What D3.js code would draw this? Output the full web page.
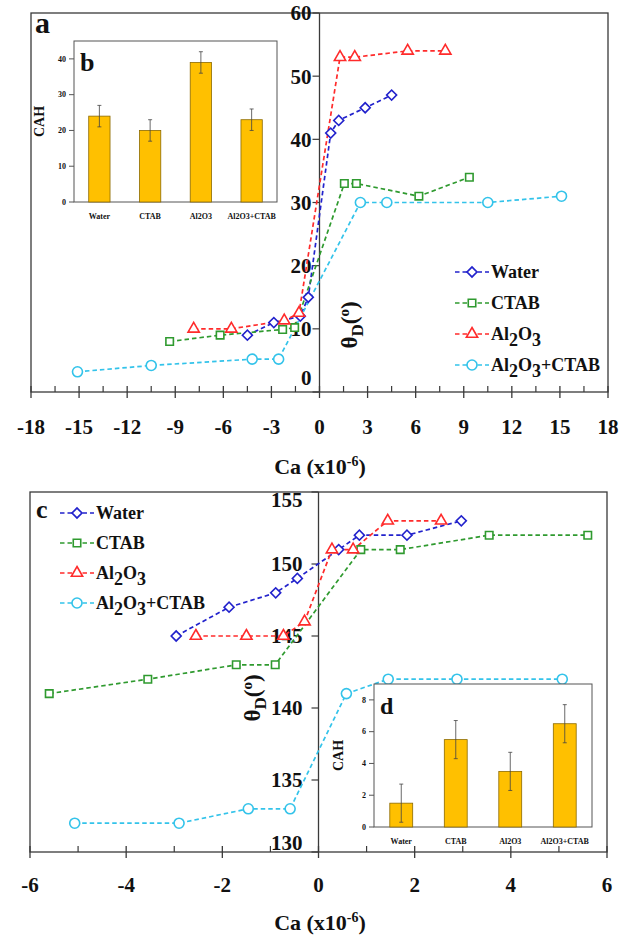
<!DOCTYPE html>
<html><head><meta charset="utf-8">
<script src="https://cdn.jsdelivr.net/npm/d3@7"></script>
<style>
body{margin:0;background:#fff}
svg{display:block}
text{font-family:"Liberation Serif","Times New Roman",serif;font-weight:bold;fill:#111}
</style>
</head><body>
<svg id="chart" width="633" height="937"></svg>
<script>
// ---------------- DATA ----------------
const seriesNames = ["Water", "CTAB", "Al_2O_3", "Al_2O_3+CTAB"];
const seriesColors = ["#2222cc", "#2f9a2f", "#ff2b2b", "#33c3ea"];
const seriesShapes = ["diamond", "square", "triangle", "circle"];

// Panel a: theta_D vs Ca (x10^-6)
const aWaterX = [-4.5, -2.85, -1.2, -0.7, 0.7, 1.2, 2.85, 4.5];
const aWaterY = [9, 11, 12, 15, 41, 43, 45, 47];
const aCtabX  = [-9.35, -6.2, -2.3, -1.55, 1.55, 2.3, 6.2, 9.35];
const aCtabY  = [8, 9, 9.9, 10.2, 33, 33, 31, 34];
const aAlX    = [-7.85, -5.5, -2.2, -1.28, 1.28, 2.2, 5.5, 7.85];
const aAlY    = [10, 10, 11.3, 12.5, 53, 53, 54, 54];
const aAlCtX  = [-15.1, -10.5, -4.2, -2.55, 2.55, 4.2, 10.5, 15.1];
const aAlCtY  = [3.2, 4.2, 5.2, 5.2, 30, 30, 30, 31];
const aXTicks = [-18, -15, -12, -9, -6, -3, 0, 3, 6, 9, 12, 15, 18];
const aYTicks = [0, 10, 20, 30, 40, 50, 60];

// Panel c: theta_D vs Ca (x10^-6)
const cWaterX = [-2.96, -1.86, -0.89, -0.44, 0.42, 0.85, 1.84, 2.97];
const cWaterY = [145, 147, 148, 149, 151, 152, 152, 153];
const cCtabX  = [-5.6, -3.55, -1.71, -0.9, 0.88, 1.7, 3.55, 5.6];
const cCtabY  = [141, 142, 143, 143, 151, 151, 152, 152];
const cAlX    = [-2.55, -1.5, -0.73, -0.29, 0.28, 0.72, 1.44, 2.55];
const cAlY    = [145, 145, 145, 146, 151, 151, 153, 153];
const cAlCtX  = [-5.07, -2.9, -1.46, -0.59, 0.58, 1.45, 2.88, 5.07];
const cAlCtY  = [132, 132, 133, 133, 141, 142, 142, 142];
const cXTicks = [-6, -4, -2, 0, 2, 4, 6];
const cYTicks = [130, 135, 140, 145, 150, 155];

// Insets: CAH bars
const barCategories = ["Water", "CTAB", "Al2O3", "Al2O3+CTAB"];
const bCah    = [24, 20, 39, 23];
const bCahErr = [3, 3, 3, 3];
const bYTicks = [0, 10, 20, 30, 40];
const dCah    = [1.5, 5.5, 3.5, 6.5];
const dCahErr = [1.2, 1.2, 1.2, 1.2];
const dYTicks = [0, 2, 4, 6, 8];

// ---------------- DRAWING ----------------
const svg = d3.select("#chart");
const AX = "#3a3a3a";

function richText(sel, label, size) {
  // "_" marks a one-character subscript
  let i = 0, lowered = false;
  while (i < label.length) {
    if (label[i] === "_") {
      sel.append("tspan").attr("dy", 6).text(label[i + 1]);
      lowered = true; i += 2;
    } else {
      let j = i;
      while (j < label.length && label[j] !== "_") j++;
      const t = sel.append("tspan").text(label.slice(i, j));
      if (lowered) { t.attr("dy", -6); lowered = false; }
      i = j;
    }
  }
}

function marker(g, shape, color, cx, cy) {
  if (shape === "circle") {
    g.append("circle").attr("cx", cx).attr("cy", cy).attr("r", 5)
      .attr("fill", "#fff").attr("stroke", color).attr("stroke-width", 1.6);
    return;
  }
  let sym, rot = 0, size;
  if (shape === "square") { sym = d3.symbolSquare; size = 56; }
  else if (shape === "diamond") { sym = d3.symbolSquare; size = 50; rot = 45; }
  else { sym = d3.symbolTriangle; size = 55; }
  g.append("path").attr("d", d3.symbol().type(sym).size(size)())
    .attr("transform", `translate(${cx},${cy}) rotate(${rot})`)
    .attr("fill", "#fff").attr("stroke", color).attr("stroke-width", 1.6);
}

function ylabel(x, y) {
  const t = svg.append("text").attr("transform", `translate(${x},${y}) rotate(-90)`)
    .attr("text-anchor", "middle").attr("font-size", 23);
  t.append("tspan").text("θ");
  t.append("tspan").attr("dy", 6).attr("font-size", 17).text("D");
  t.append("tspan").attr("dy", -6).text("(");
  t.append("tspan").attr("dy", -8).attr("font-size", 15).text("o");
  t.append("tspan").attr("dy", 8).text(")");
}

function xlabel(x, y) {
  const t = svg.append("text").attr("x", x).attr("y", y)
    .attr("text-anchor", "middle").attr("font-size", 22);
  t.append("tspan").text("Ca (x10");
  t.append("tspan").attr("dy", -8).attr("font-size", 14).text("-6");
  t.append("tspan").attr("dy", 8).text(")");
}

function panel(o) {
  const x = d3.scaleLinear().domain(o.xDomain).range([o.left, o.right]);
  const y = d3.scaleLinear().domain(o.yDomain).range([o.bottom, o.top]);
  const g = svg.append("g");
  // frame
  g.append("rect").attr("x", o.left).attr("y", o.top)
    .attr("width", o.right - o.left).attr("height", o.bottom - o.top)
    .attr("fill", "none").attr("stroke", AX).attr("stroke-width", 1.3);
  // x ticks (major crossing, minor inward)
  const step = o.xTicks[1] - o.xTicks[0];
  o.xTicks.forEach((t, k) => {
    g.append("line").attr("x1", x(t)).attr("x2", x(t))
      .attr("y1", o.bottom - 6).attr("y2", o.bottom + 6)
      .attr("stroke", AX).attr("stroke-width", 1.3);
    if (k < o.xTicks.length - 1) {
      const m = t + step / 2;
      g.append("line").attr("x1", x(m)).attr("x2", x(m))
        .attr("y1", o.bottom - 6).attr("y2", o.bottom)
        .attr("stroke", AX).attr("stroke-width", 1.2);
    }
    g.append("text").attr("x", x(t)).attr("y", o.xLabelY)
      .attr("text-anchor", "middle").attr("font-size", 21).text(String(t));
  });
  // y axis at x = 0
  const x0 = x(0);
  g.append("line").attr("x1", x0).attr("x2", x0).attr("y1", o.top).attr("y2", o.bottom)
    .attr("stroke", AX).attr("stroke-width", 1.3);
  o.yTicks.forEach(t => {
    g.append("line").attr("x1", x0 - 7).attr("x2", x0).attr("y1", y(t)).attr("y2", y(t))
      .attr("stroke", AX).attr("stroke-width", 1.2);
    const ly = Math.max(o.top + o.clampTop, Math.min(o.bottom - o.clampBottom, y(t)));
    g.append("text").attr("x", x0 - o.yLabelGap).attr("y", ly).attr("dy", "0.35em")
      .attr("text-anchor", "end").attr("font-size", 21).text(String(t));
  });
  // series
  const line = d3.line().x(d => x(d[0])).y(d => y(d[1]));
  o.series.forEach((s, i) => {
    const pts = s.xs.map((v, k) => [v, s.ys[k]]);
    g.append("path").attr("d", line(pts)).attr("fill", "none")
      .attr("stroke", seriesColors[i]).attr("stroke-width", 1.7)
      .attr("stroke-dasharray", "4.5,3");
  });
  o.series.forEach((s, i) => {
    s.xs.forEach((v, k) => marker(g, seriesShapes[i], seriesColors[i], x(v), y(s.ys[k])));
  });
  // legend
  seriesNames.forEach((n, i) => {
    const ly = o.legY + i * o.legStep;
    g.append("line").attr("x1", o.legX).attr("x2", o.legX + 34).attr("y1", ly).attr("y2", ly)
      .attr("stroke", seriesColors[i]).attr("stroke-width", 1.7).attr("stroke-dasharray", "4.5,3");
    marker(g, seriesShapes[i], seriesColors[i], o.legX + 17, ly);
    const t = g.append("text").attr("x", o.legX + 36).attr("y", ly + 6).attr("font-size", 18);
    richText(t, n);
  });
  // panel letter
  g.append("text").attr("x", o.letterX).attr("y", o.letterY).attr("font-size", o.letterSize).text(o.letter);
}

function inset(o) {
  const x = d3.scaleBand().domain(barCategories).range([o.left, o.right]).paddingInner(0.58).paddingOuter(0.29);
  const y = d3.scaleLinear().domain(o.yDomain).range([o.bottom, o.top]);
  const g = svg.append("g");
  g.append("rect").attr("x", o.left).attr("y", o.top)
    .attr("width", o.right - o.left).attr("height", o.bottom - o.top)
    .attr("fill", "#fff").attr("stroke", "#555").attr("stroke-width", 1);
  o.yTicks.forEach(t => {
    g.append("line").attr("x1", o.left - 5).attr("x2", o.left).attr("y1", y(t)).attr("y2", y(t))
      .attr("stroke", "#555").attr("stroke-width", 1);
    g.append("text").attr("x", o.left - 8).attr("y", y(t)).attr("dy", "0.35em")
      .attr("text-anchor", "end").attr("font-size", 8).text(String(t));
  });
  barCategories.forEach((c, i) => {
    const v = o.values[i], e = o.errs[i];
    g.append("rect").attr("x", x(c)).attr("y", y(v)).attr("width", x.bandwidth())
      .attr("height", y(0) - y(v)).attr("fill", "#ffc000").attr("stroke", "#8c6a00").attr("stroke-width", 0.8);
    const cx = x(c) + x.bandwidth() / 2;
    g.append("line").attr("x1", cx).attr("x2", cx).attr("y1", y(v + e)).attr("y2", y(v - e))
      .attr("stroke", "#444").attr("stroke-width", 0.8);
    [v + e, v - e].forEach(w => g.append("line").attr("x1", cx - 2).attr("x2", cx + 2)
      .attr("y1", y(w)).attr("y2", y(w)).attr("stroke", "#444").attr("stroke-width", 0.8));
    g.append("text").attr("x", cx).attr("y", o.bottom + 17).attr("text-anchor", "middle")
      .attr("font-size", 8).attr("font-weight", "normal").text(c);
  });
  g.append("text").attr("transform", `translate(${o.cahX},${(o.top + o.bottom) / 2}) rotate(-90)`)
    .attr("text-anchor", "middle").attr("font-size", 14).text("CAH");
  g.append("text").attr("x", o.left + 6).attr("y", o.top + 30).attr("font-size", o.letterSize).text(o.letter);
}

// Panel a
panel({
  xDomain: [-18, 18], yDomain: [0, 60], left: 31, right: 608, top: 13, bottom: 392,
  xTicks: aXTicks, yTicks: aYTicks, xLabelY: 434, yLabelGap: 8, clampTop: -100, clampBottom: 14,
  series: [{xs: aWaterX, ys: aWaterY}, {xs: aCtabX, ys: aCtabY}, {xs: aAlX, ys: aAlY}, {xs: aAlCtX, ys: aAlCtY}],
  legX: 455, legY: 272, legStep: 31, letter: "a", letterX: 35, letterY: 33, letterSize: 30
});
ylabel(357, 325);
xlabel(320, 474);
inset({left: 74, right: 277, top: 41, bottom: 202, yDomain: [0, 45], yTicks: bYTicks,
  values: bCah, errs: bCahErr, cahX: 44, letter: "b", letterSize: 26});

// Panel c
panel({
  xDomain: [-6, 6], yDomain: [130, 155], left: 30, right: 607, top: 492, bottom: 852,
  xTicks: cXTicks, yTicks: cYTicks, xLabelY: 892, yLabelGap: 16, clampTop: 8, clampBottom: 9,
  series: [{xs: cWaterX, ys: cWaterY}, {xs: cCtabX, ys: cCtabY}, {xs: cAlX, ys: cAlY}, {xs: cAlCtX, ys: cAlCtY}],
  legX: 60, legY: 513, legStep: 30, letter: "c", letterX: 36, letterY: 518, letterSize: 26
});
ylabel(260, 698);
xlabel(320, 930);
inset({left: 374, right: 592, top: 684, bottom: 827, yDomain: [0, 9], yTicks: dYTicks,
  values: dCah, errs: dCahErr, cahX: 343, letter: "d", letterSize: 24});
</script>
</body></html>
